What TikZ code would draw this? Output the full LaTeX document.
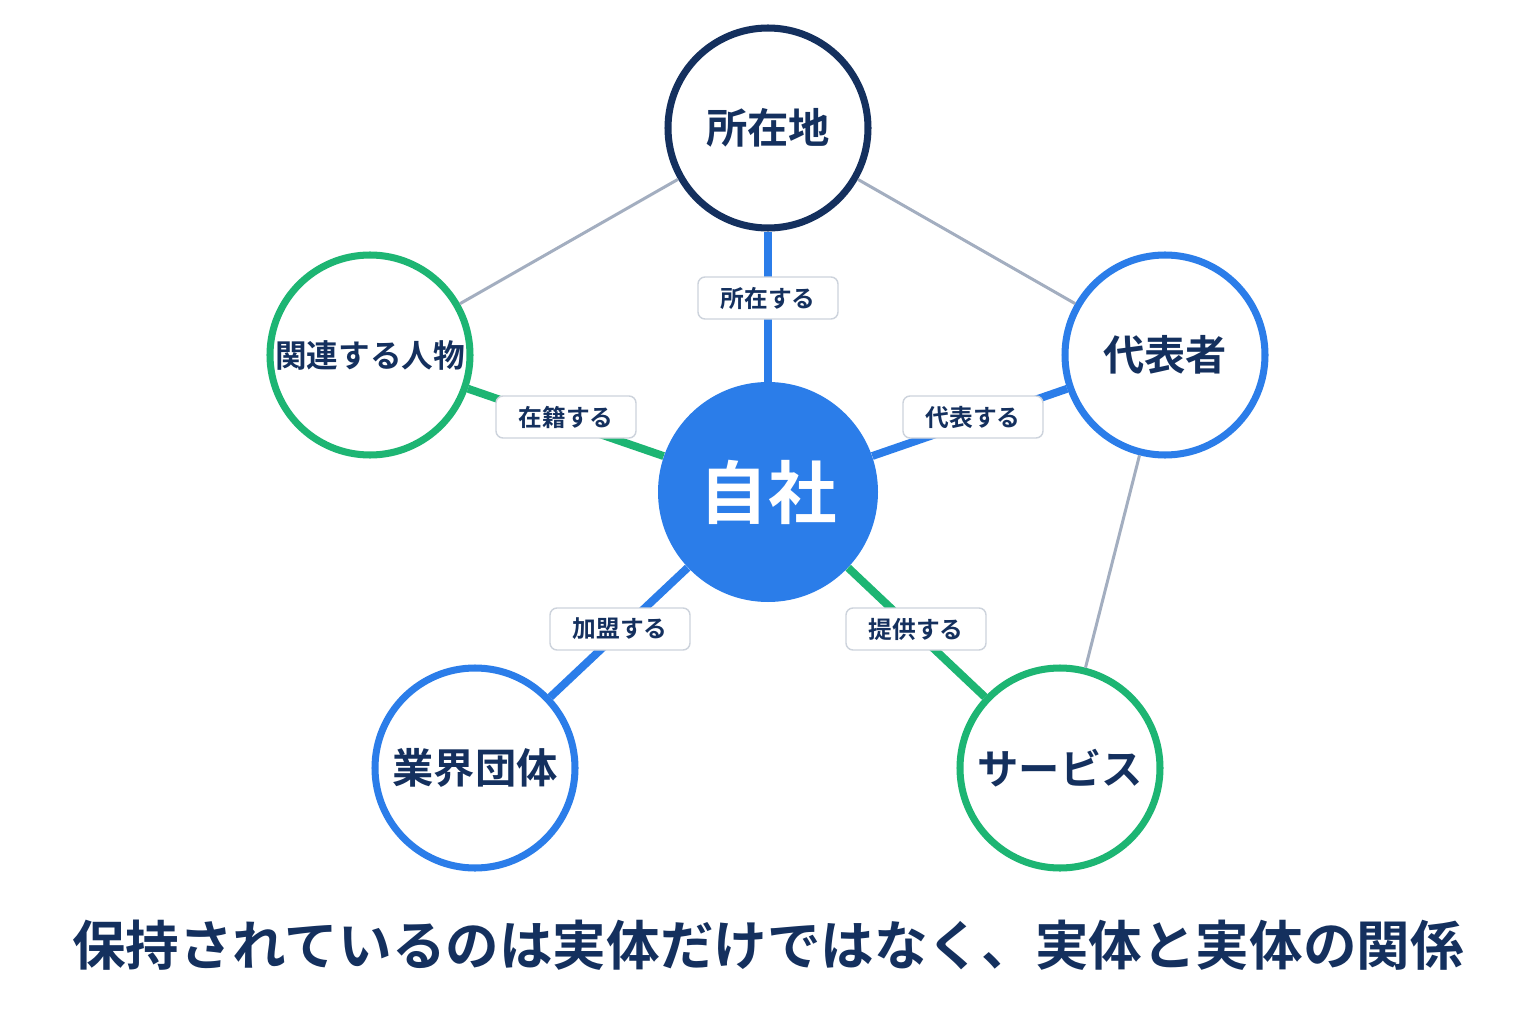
\documentclass[tikz,border=0pt]{standalone}
\usepackage{fontspec}
\setmainfont{Noto Sans CJK JP}[BoldFont={* Bold}]
\definecolor{navy}{HTML}{14305E}
\definecolor{cblue}{HTML}{2B7DE9}
\definecolor{cgreen}{HTML}{1DB573}
\definecolor{cgrey}{HTML}{A3AEC0}
\definecolor{lborder}{HTML}{CDD3DC}
\begin{document}
\begin{tikzpicture}[x=0.02cm,y=-0.02cm,
  ent/.style={circle,draw=#1,line width=4pt,fill=white,minimum size=200*0.02cm,inner sep=0pt,font=\bfseries\fontsize{23.5}{26}\selectfont,text=navy},
  blueedge/.style={cblue,line width=4.5pt},
  greenedge/.style={cgreen,line width=4.5pt},
  greyedge/.style={cgrey,line width=1.7pt},
  lab/.style={draw=lborder,line width=0.8pt,fill=white,rounded corners=4pt,font=\bfseries\fontsize{13.5}{15}\selectfont,text=navy,minimum width=140*0.02cm,minimum height=42*0.02cm}]
\useasboundingbox[fill=white] (0,0) rectangle (1536,1024);
\node[ent=navy] (loc) at (768,128) {所在地};
\node[ent=cgreen,font=\bfseries\fontsize{18}{20}\selectfont] (per) at (370,355) {関連する人物};
\node[ent=cblue] (rep) at (1165,355) {代表者};
\node[ent=cblue] (ind) at (475,768) {業界団体};
\node[ent=cgreen] (svc) at (1060,768) {サービス};
\node[circle,fill=cblue,minimum size=220*0.02cm,inner sep=0pt,text=white,font=\bfseries\fontsize{39}{42}\selectfont] (me) at (768,492) {自社};
\draw[greyedge] (loc) -- (per);
\draw[greyedge] (loc) -- (rep);
\draw[greyedge] (rep) -- (svc);
\draw[blueedge] (me) -- (loc);
\draw[greenedge] (me) -- (per);
\draw[blueedge] (me) -- (rep);
\draw[blueedge] (me) -- (ind);
\draw[greenedge] (me) -- (svc);
\node[lab] (l1) at (768,298) {所在する};
\node[lab] (l2) at (566,417) {在籍する};
\node[lab] (l3) at (973,417) {代表する};
\node[lab] (l4) at (620,629) {加盟する};
\node[lab] (l5) at (916,629) {提供する};
\node[font=\bfseries\fontsize{30.5}{34}\selectfont,text=navy] (title) at (768,945) {保持されているのは実体だけではなく、実体と実体の関係};
\end{tikzpicture}
\end{document}
